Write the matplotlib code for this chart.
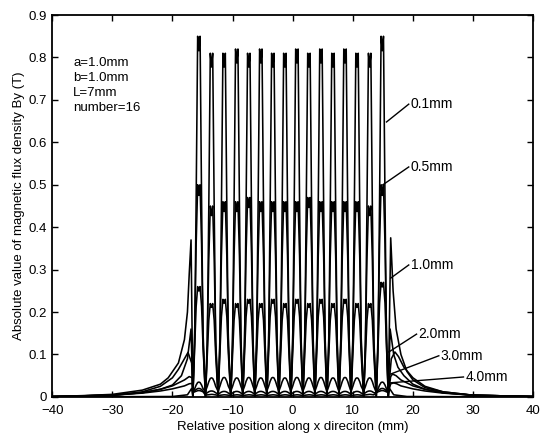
import matplotlib
matplotlib.use("Agg")
from matplotlib import pyplot as plt

plt.rcParams['font.family'] = ['Liberation Sans', 'DejaVu Sans']

# peak centres of the 16 magnets (mm)
peak_x = [-15.6, -13.5, -11.4, -9.3, -7.3, -5.3, -3.3, -1.3, 0.7, 2.7, 4.7, 6.7, 8.7, 10.7, 12.8, 14.9]

# shape of one pulse: offsets from the peak centre (mm)
pulse_off = [-1.0, -0.7, -0.45, -0.2, 0.0, 0.2, 0.45, 0.7]

gap_labels = ["0.1mm", "0.5mm", "1.0mm", "2.0mm", "3.0mm", "4.0mm"]

# peak heights (T) for every gap
h_01 = [0.85, 0.81, 0.81, 0.82, 0.81, 0.82, 0.81, 0.81, 0.82, 0.81, 0.82, 0.81, 0.82, 0.81, 0.81, 0.85]
h_05 = [0.50, 0.45, 0.46, 0.46, 0.47, 0.46, 0.46, 0.46, 0.46, 0.47, 0.46, 0.46, 0.46, 0.46, 0.45, 0.50]
h_10 = [0.26, 0.22, 0.23, 0.22, 0.23, 0.22, 0.23, 0.22, 0.23, 0.22, 0.23, 0.22, 0.23, 0.22, 0.22, 0.27]
h_20 = [0.035, 0.045, 0.046, 0.045, 0.046, 0.045, 0.046, 0.045, 0.046, 0.045, 0.046, 0.045, 0.046, 0.045, 0.045, 0.035]
h_30 = [0.02, 0.014, 0.013, 0.013, 0.013, 0.013, 0.013, 0.013, 0.013, 0.013, 0.013, 0.013, 0.013, 0.013, 0.014, 0.02]
h_40 = [0.015, 0.006, 0.005, 0.005, 0.005, 0.005, 0.005, 0.005, 0.005, 0.005, 0.005, 0.005, 0.005, 0.005, 0.006, 0.015]

# pulse profile as a fraction of the peak height
f_01 = [0.0, 0.15, 0.55, 1.0, 0.96, 1.0, 0.55, 0.15]
f_05 = [0.0, 0.3, 0.72, 1.0, 0.95, 1.0, 0.72, 0.3]
f_10 = [0.0, 0.45, 0.82, 1.0, 0.96, 1.0, 0.82, 0.45]
f_20 = [0.3, 0.55, 0.8, 0.97, 1.0, 0.97, 0.8, 0.55]
f_30 = [0.5, 0.7, 0.88, 0.98, 1.0, 0.98, 0.88, 0.7]
f_40 = [0.7, 0.8, 0.9, 0.98, 1.0, 0.98, 0.9, 0.8]

# field outside the magnet row (left and right tails)
lx_01 = [-40, -20, -17.5, -16.8]
ly_01 = [0.0, 0.001, 0.005, 0.02]
rx_01 = [16.1, 16.8, 19, 40]
ry_01 = [0.02, 0.005, 0.001, 0.0]

lx_05 = [-40, -30, -25, -22, -20, -18.5, -17.5, -16.9]
ly_05 = [0.001, 0.004, 0.01, 0.018, 0.028, 0.05, 0.09, 0.16]
rx_05 = [16.2, 16.8, 17.5, 18.5, 20, 22, 25, 30, 40]
ry_05 = [0.16, 0.1, 0.07, 0.05, 0.03, 0.018, 0.01, 0.004, 0.001]

lx_10 = [-40, -35, -30, -25, -22, -20.7, -19, -18, -17.5, -17.2, -16.9]
ly_10 = [0.001, 0.003, 0.006, 0.016, 0.03, 0.045, 0.08, 0.135, 0.2, 0.29, 0.37]
rx_10 = [16.3, 16.7, 17.2, 18, 19, 20, 22, 25, 30, 40]
ry_10 = [0.375, 0.25, 0.16, 0.1, 0.06, 0.04, 0.022, 0.012, 0.004, 0.001]

lx_20 = [-40, -30, -25, -22, -20, -19, -18, -17.4, -16.8]
ly_20 = [0.001, 0.004, 0.012, 0.025, 0.045, 0.065, 0.09, 0.105, 0.08]
rx_20 = [16.4, 17.0, 17.6, 18.5, 20, 22, 25, 30, 40]
ry_20 = [0.09, 0.106, 0.095, 0.07, 0.045, 0.025, 0.012, 0.004, 0.001]

lx_30 = [-40, -30, -25, -22, -20, -18, -17.2, -16.7]
ly_30 = [0.001, 0.004, 0.01, 0.018, 0.026, 0.04, 0.048, 0.045]
rx_30 = [16.3, 16.6, 17.2, 18, 20, 22, 25, 30, 40]
ry_30 = [0.048, 0.054, 0.05, 0.04, 0.026, 0.018, 0.01, 0.004, 0.001]

lx_40 = [-40, -30, -25, -22, -20, -18, -17.2, -16.7]
ly_40 = [0.001, 0.004, 0.009, 0.014, 0.019, 0.026, 0.031, 0.032]
rx_40 = [16.3, 16.8, 17.3, 18, 20, 22, 25, 30, 40]
ry_40 = [0.031, 0.033, 0.031, 0.026, 0.019, 0.014, 0.009, 0.004, 0.001]

# label text positions and the points the leader lines touch
lab_x = [19.6, 19.6, 19.6, 20.9, 24.6, 28.7]
lab_y = [0.69, 0.542, 0.311, 0.148, 0.097, 0.047]
tip_x = [15.6, 15.0, 16.3, 16.0, 16.3, 16.0]
tip_y = [0.648, 0.50, 0.28, 0.106, 0.054, 0.033]


def build_curve(lx, ly, heights, frac, rx, ry):
    xs = list(lx)
    ys = list(ly)
    for p, h in zip(peak_x, heights):
        for o, f in zip(pulse_off, frac):
            xs.append(p + o)
            ys.append(h * f)
    xs.append(peak_x[-1] + 1.0)
    ys.append(heights[-1] * frac[0])
    xs += rx
    ys += ry
    return xs, ys


curves = [
    build_curve(lx_01, ly_01, h_01, f_01, rx_01, ry_01),
    build_curve(lx_05, ly_05, h_05, f_05, rx_05, ry_05),
    build_curve(lx_10, ly_10, h_10, f_10, rx_10, ry_10),
    build_curve(lx_20, ly_20, h_20, f_20, rx_20, ry_20),
    build_curve(lx_30, ly_30, h_30, f_30, rx_30, ry_30),
    build_curve(lx_40, ly_40, h_40, f_40, rx_40, ry_40),
]

fig = plt.figure(figsize=(5.43, 4.43), dpi=100)
ax = fig.add_axes([0.096, 0.104, 0.886, 0.862])

for xs, ys in curves:
    ax.plot(xs, ys, color="black", lw=1.15)

for i in range(len(gap_labels)):
    ax.plot([tip_x[i], lab_x[i] - 0.3], [tip_y[i], lab_y[i]], color="black", lw=1.0)
    ax.text(lab_x[i], lab_y[i], gap_labels[i], fontsize=10, va="center", ha="left")

ax.text(-36.5, 0.80, "a=1.0mm\nb=1.0mm\nL=7mm\nnumber=16", fontsize=9.5,
        va="top", ha="left", linespacing=1.3)

ax.set_xlim(-40, 40)
ax.set_ylim(0, 0.9)
ax.set_xticks([-40, -30, -20, -10, 0, 10, 20, 30, 40])
ax.set_yticks([0, 0.1, 0.2, 0.3, 0.4, 0.5, 0.6, 0.7, 0.8, 0.9])
ax.set_yticklabels(["0", "0.1", "0.2", "0.3", "0.4", "0.5", "0.6", "0.7", "0.8", "0.9"])
ax.tick_params(direction="in", top=True, right=True, labelsize=9.5, length=4, width=1)
ax.tick_params(axis="x", pad=6)
ax.tick_params(axis="y", pad=4)
for s in ax.spines.values():
    s.set_linewidth(1.3)

ax.set_xlabel("Relative position along x direciton (mm)", fontsize=9.5, labelpad=3)
ax.set_ylabel("Absolute value of magnetic flux density By (T)", fontsize=9.5, labelpad=2)

plt.savefig("out.png", dpi=100)
